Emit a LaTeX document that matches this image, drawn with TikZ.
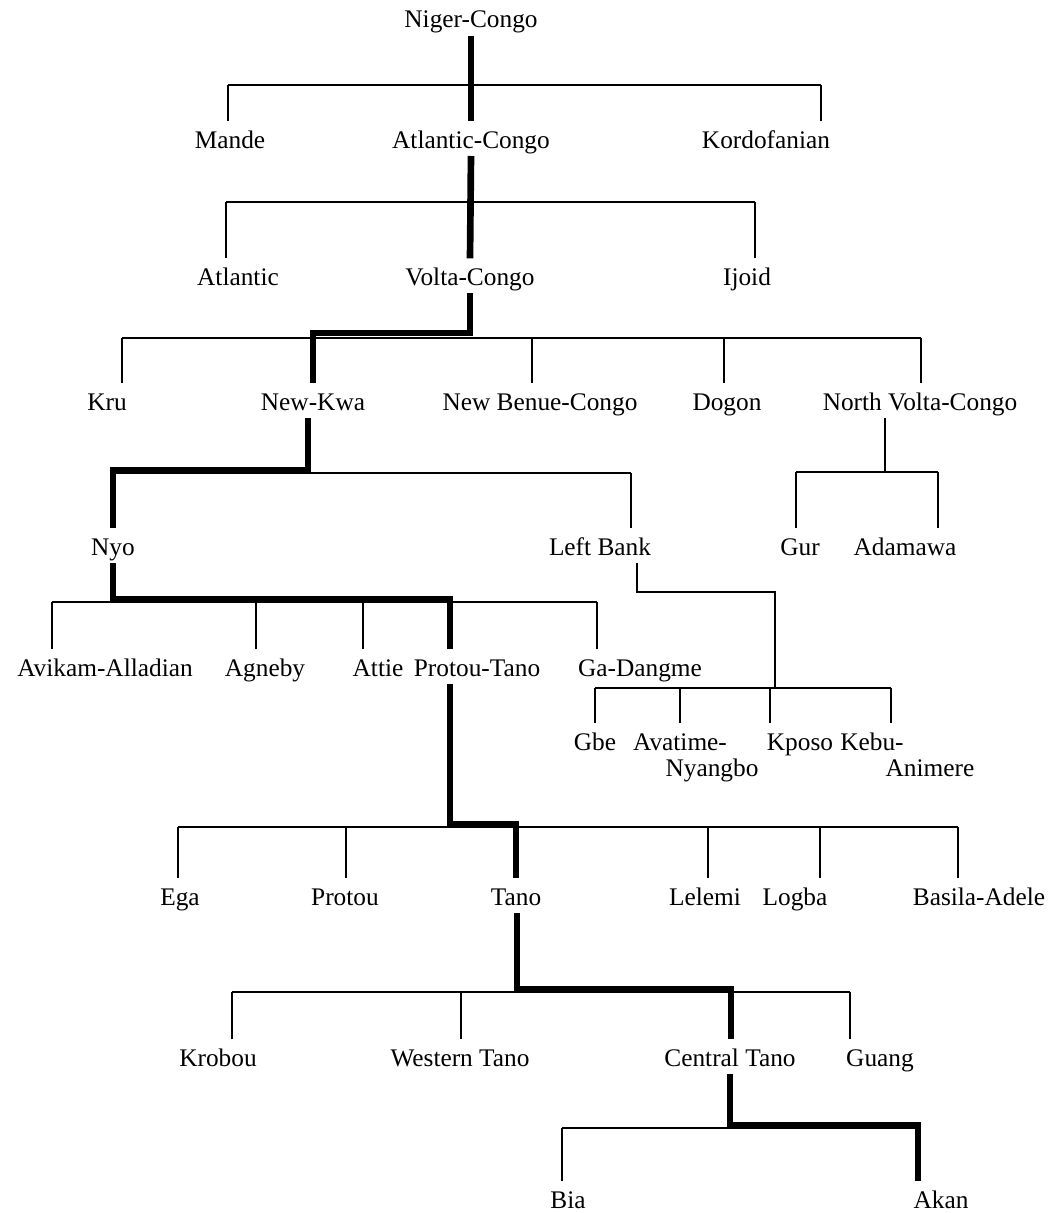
\documentclass[tikz,border=0pt]{standalone}
\usepackage{fontspec}
\setmainfont{Liberation Serif}
\newcommand{\kid}[3]{\draw[branch] (#1.north) ++(#2,0) coordinate (t) -- (t |- #3);}
\begin{document}
\begin{tikzpicture}[x=0.75pt,y=-0.75pt,lang/.style={inner sep=0pt,outer sep=0pt,anchor=base,text height=20pt,text depth=6pt,font=\fontsize{19}{22}\selectfont},branch/.style={line width=2.1pt},main/.style={line width=5pt}]
\useasboundingbox (0,0) rectangle (1049,1213);

\node[lang] (NC) at (471,28) {Niger-Congo};
\node[lang] (Mande) at (230,148) {Mande};
\node[lang] (AC) at (471,148) {Atlantic-Congo};
\node[lang] (Kord) at (766,148) {Kordofanian};
\node[lang] (Atl) at (238,285) {Atlantic};
\node[lang] (VC) at (470,285) {Volta-Congo};
\node[lang] (Ijoid) at (747,285) {Ijoid};
\node[lang] (Kru) at (107,410) {Kru};
\node[lang] (NK) at (313,410) {New-Kwa};
\node[lang] (NBC) at (540,410) {New Benue-Congo};
\node[lang] (Dogon) at (727,410) {Dogon};
\node[lang] (NVC) at (920,410) {North Volta-Congo};
\node[lang] (Nyo) at (113,555) {Nyo};
\node[lang] (LB) at (600,555) {Left Bank};
\node[lang] (Gur) at (800,555) {Gur};
\node[lang] (Adam) at (905,555) {Adamawa};
\node[lang] (Avik) at (105,676) {Avikam-Alladian};
\node[lang] (Agn) at (265,676) {Agneby};
\node[lang] (Attie) at (378,676) {Attie};
\node[lang] (PT) at (477,676) {Protou-Tano};
\node[lang] (GaD) at (640,676) {Ga-Dangme};
\node[lang] (Gbe) at (595,750) {Gbe};
\node[lang] (Avat) at (680,750) {Avatime-};
\node[lang] (Nyang) at (712,776) {Nyangbo};
\node[lang] (Kposo) at (800,750) {Kposo};
\node[lang] (Kebu) at (872,750) {Kebu-};
\node[lang] (Anim) at (930,776) {Animere};
\node[lang] (Ega) at (180,905) {Ega};
\node[lang] (Protou) at (345,905) {Protou};
\node[lang] (Tano) at (516,905) {Tano};
\node[lang] (Lel) at (705,905) {Lelemi};
\node[lang] (Logba) at (795,905) {Logba};
\node[lang] (Bas) at (979,905) {Basila-Adele};
\node[lang] (Krob) at (218,1066) {Krobou};
\node[lang] (WT) at (460,1066) {Western Tano};
\node[lang] (CT) at (730,1066) {Central Tano};
\node[lang] (Guang) at (880,1066) {Guang};
\node[lang] (Bia) at (568,1208) {Bia};
\node[lang] (Akan) at (941,1208) {Akan};

\coordinate (b1) at (228,85); \coordinate (b1e) at (821,85);
\coordinate (b2) at (226,202); \coordinate (b2e) at (755,202);
\coordinate (b3) at (122,338); \coordinate (b3e) at (921,338);
\coordinate (b4) at (113,473); \coordinate (b4e) at (631,473);
\coordinate (b4n) at (796,472); \coordinate (b4ne) at (938,472);
\coordinate (b5) at (52,602); \coordinate (b5e) at (597,602);
\coordinate (b5l) at (595,688); \coordinate (b5le) at (891,688); \coordinate (b5lm) at (775,688);
\coordinate (b6) at (178,827); \coordinate (b6e) at (958,827);
\coordinate (b7) at (232,992); \coordinate (b7e) at (850,992);
\coordinate (b8) at (562,1128); \coordinate (b8e) at (918,1128);

\foreach \b in {b1,b2,b3,b4,b4n,b5,b5l,b6,b7,b8}
  \draw[branch] (\b) -- (\b e);

\kid{Mande}{-2}{b1} \kid{Kord}{55}{b1}
\kid{Atl}{-12}{b2} \kid{Ijoid}{8}{b2}
\kid{Kru}{15}{b3} \kid{NBC}{-8}{b3} \kid{Dogon}{-3}{b3} \kid{NVC}{1}{b3}
\kid{LB}{31}{b4}
\kid{Gur}{-4}{b4n} \kid{Adam}{33}{b4n}
\kid{Avik}{-53}{b5} \kid{Agn}{-9}{b5} \kid{Attie}{-15}{b5} \kid{GaD}{-43}{b5}
\kid{Gbe}{0}{b5l} \kid{Avat}{0}{b5l} \kid{Kposo}{-30}{b5l} \kid{Kebu}{19}{b5l}
\kid{Ega}{-2}{b6} \kid{Protou}{1}{b6} \kid{Lel}{3}{b6} \kid{Logba}{25}{b6} \kid{Bas}{-21}{b6}
\kid{Krob}{14}{b7} \kid{WT}{1}{b7} \kid{Guang}{-30}{b7}
\kid{Bia}{-6}{b8}

\draw[branch] (NVC.south) ++(-35,0) coordinate (t) -- (t |- b4n);
\draw[branch] (LB.south) ++(37,0) -- ++(0,29) -| (b5lm);

\draw[main] (NC.south) -- (AC.north);
\draw[main] (AC.south) -- (VC.north);
\draw[main] (VC.south) -- ++(0,40) -| (NK.north);
\draw[main] (NK.south) ++(-5,0) -- ++(0,52) -| (Nyo.north);
\draw[main] (Nyo.south) -- ++(0,36) -| ([xshift=-20.25pt]PT.north);
\draw[main] (PT.south) ++(-27,0) -- ++(0,140) -| (Tano.north);
\draw[main] (Tano.south) ++(1,0) -- ++(0,76) -| ([xshift=0.75pt]CT.north);
\draw[main] (CT.south) -- ++(0,51) -| ([xshift=-17.25pt]Akan.north);
\end{tikzpicture}
\end{document}
